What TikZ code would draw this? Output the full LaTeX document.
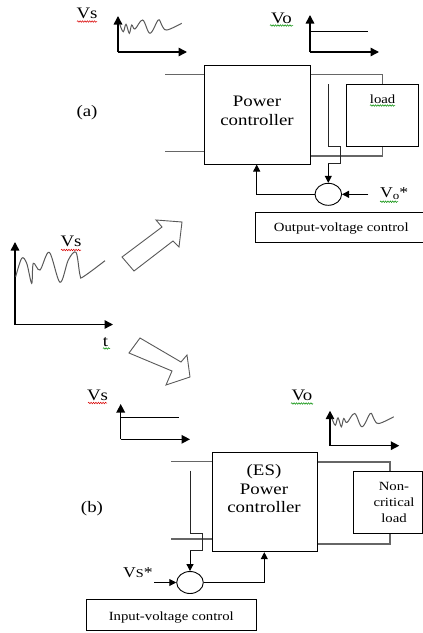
\documentclass[tikz,border=0pt]{standalone}
\usepackage{fontspec}
\setmainfont[FakeStretch=1.18]{Liberation Serif}
\usetikzlibrary{arrows.meta,decorations.pathmorphing,shapes.geometric}
\begin{document}
\begin{tikzpicture}[x=1pt,y=-1pt,
  box/.style={draw=black,line width=0.9pt,inner sep=0pt,rectangle},
  wire/.style={draw=black!60,line width=1.1pt},
  sense/.style={draw=black!85,line width=1pt},
  axis/.style={line width=1.5pt,-{Triangle[length=8.5pt,width=8.5pt]}},
  sig/.style={line width=1pt,-{Triangle[length=7pt,width=7pt]}},
  wave/.style={draw=black!65,line width=1pt},
  lbl/.style={inner sep=0pt,anchor=base,font=\fontsize{16}{18}\selectfont},
  smalllbl/.style={inner sep=0pt,anchor=base,font=\fontsize{12.5}{15}\selectfont},
  sum/.style={draw,ellipse,line width=0.9pt,minimum width=26.6pt,minimum height=22pt,inner sep=0pt},
  blk/.style={draw=black!65,line width=0.9pt,fill=white,line join=miter},
  redsq/.style={draw=red!85!black,line width=0.5pt,decorate,decoration={snake,amplitude=0.8pt,segment length=2.4pt}},
  grnsq/.style={draw=green!55!black,line width=0.5pt,decorate,decoration={snake,amplitude=0.8pt,segment length=2.4pt}}
]
\useasboundingbox (0,0) rectangle (423,633);

% ---------------- (a) ----------------
\node[box,minimum width=105.7pt,minimum height=98.7pt] (pca) at (257.2,114.7) {};
\node[lbl] (pcat1) at (257,106.7) {Power};
\node[lbl] (pcat2) at (257,125) {controller};
\node[box,minimum width=71.6pt,minimum height=62pt] (loada) at (382.5,115.3) {};
\node[smalllbl] (loadat) at (382.6,103.5) {load};
\node[box,minimum width=172pt,minimum height=30pt] (ovc) at (341,227.3) {};
\node[smalllbl] (ovct) at (341.3,231) {Output-voltage control};
\node[sum] (suma) at (328.3,194.3) {};
\node[lbl] (alabel) at (87,116) {(a)};
\node[lbl] (vsa) at (87,18) {Vs};
\node[lbl] (voa) at (281.5,23) {Vo};
\node[lbl,anchor=base west,font=\fontsize{15}{18}\selectfont] (vostar) at (380,197) {V\raisebox{-2.5pt}{\fontsize{11}{11}\selectfont o}*};

\coordinate (ina1) at (165,74.7);
\coordinate (ina2) at (165,151.3);
\coordinate (oa1) at (382.7,74.7);
\coordinate (oa2) at (382.7,156);
\draw[wire] (ina1) -- (ina1 -| pca.west);
\draw[wire] (ina2) -- (ina2 -| pca.west);
\draw[wire] (pca.east |- oa1) -- (oa1) -- (oa1 |- loada.north);
\draw[wire] (pca.east |- oa2) -- (oa2) -- (oa2 |- loada.south);

\coordinate (sa1) at (328.3,84.3);
\coordinate (sa2) at (328.3,146);
\coordinate (sa3) at (340,146);
\coordinate (sa4) at (340,163.5);
\coordinate (sa5) at (328.3,163.5);
\draw[sense] (sa1) -- (sa2) -- (sa3) -- (sa4) -- (sa5);
\draw[sig] (sa5) -- (suma.north);
\coordinate (vref) at (368.3,194.3);
\draw[sig] (vref) -- (suma.east);
\coordinate (fa) at (256.7,194.3);
\draw[sig] (suma.west) -- (fa) -- (fa |- pca.south);

% small axes (a)
\coordinate (oa) at (118,52);
\draw[axis] (oa) -- ++(0,-36);
\draw[axis] (oa) -- ++(69,0);
\draw[wave] plot[smooth,tension=0.6] coordinates {(120,25) (123.3,31.7) (126,24.3) (129.3,33.3) (131.7,25) (135,29) (142.7,20) (150,33.3) (158.3,20) (161.7,25) (166.7,30) (181.7,23.3)};
\coordinate (ob) at (310,52);
\draw[axis] (ob) -- ++(0,-37);
\draw[axis] (ob) -- ++(69,0);
\coordinate (stepa) at (310,31);
\draw[line width=1pt] (stepa) -- ++(58,0);

% ---------------- middle ----------------
\coordinate (om) at (15,324.5);
\draw[axis] (om) -- ++(0,-82.5);
\draw[axis] (om) -- ++(98,0);
\draw[wave] plot[smooth,tension=0.55] coordinates {(15.7,276.7) (21.7,258.3) (26.7,263.3) (31.7,283.3) (33.3,263.3) (40,270) (49.3,252.3) (60,282.3) (68.3,260) (76,252.3) (80,275) (83.3,276.7) (105,260.7)};
\node[lbl] (vsm) at (71,246.7) {Vs};
\node[lbl] (tlabel) at (105.5,346) {t};

\draw[blk] (122,257) -- (162,227) -- (156,220) -- (182,222) -- (179,247) -- (173,241) -- (134,271) -- cycle;
\draw[blk] (140,338) -- (181,362) -- (187,355) -- (190,377) -- (166,385) -- (172,371) -- (129,353) -- cycle;

% ---------------- (b) ----------------
\node[box,minimum width=105.3pt,minimum height=99.4pt] (pcb) at (264.7,502) {};
\node[lbl] (pcbt0) at (264,475) {(ES)};
\node[lbl] (pcbt1) at (264,494.3) {Power};
\node[lbl] (pcbt2) at (264,512.3) {controller};
\node[box,minimum width=68.7pt,minimum height=61.6pt] (loadb) at (387.7,502.5) {};
\node[smalllbl] (loadbt1) at (394,490) {Non-};
\node[smalllbl] (loadbt2) at (394,506) {critical};
\node[smalllbl] (loadbt3) at (394,522) {load};
\node[box,minimum width=170.7pt,minimum height=30.7pt] (ivc) at (171.3,614.7) {};
\node[smalllbl] (ivct) at (171.3,620) {Input-voltage control};
\node[sum] (sumb) at (190,582.5) {};
\node[lbl] (blabel) at (92,512) {(b)};
\node[lbl] (vsb) at (97.5,400) {Vs};
\node[lbl] (vob) at (302,400.7) {Vo};
\node[lbl,anchor=base west,font=\fontsize{15}{18}\selectfont] (vsstar) at (123,577) {V{\fontsize{12}{12}\selectfont S}*};

\coordinate (inb1) at (171,461.7);
\coordinate (inb2) at (171,539);
\coordinate (obb1) at (390,462);
\coordinate (obb2) at (390,544);
\draw[wire] (inb1) -- (inb1 -| pcb.west);
\draw[wire] (inb2) -- (inb2 -| pcb.west);
\draw[wire] (pcb.east |- obb1) -- (obb1) -- (obb1 |- loadb.north);
\draw[wire] (pcb.east |- obb2) -- (obb2) -- (obb2 |- loadb.south);

\coordinate (sb1) at (190,470.7);
\coordinate (sb2) at (190,533.3);
\coordinate (sb3) at (202.3,533.3);
\coordinate (sb4) at (202.3,550.7);
\coordinate (sb5) at (190,550.7);
\draw[sense] (sb1) -- (sb2) -- (sb3) -- (sb4) -- (sb5);
\draw[sig] (sb5) -- (sumb.north);
\coordinate (vsref) at (154.3,582.5);
\draw[sig] (vsref) -- (sumb.west);
\coordinate (fb) at (264.3,582.5);
\draw[sig] (sumb.east) -- (fb) -- (fb |- pcb.south);

% axes (b)
\coordinate (oc) at (120.7,439.3);
\draw[axis] (oc) -- ++(0,-35.3);
\draw[axis] (oc) -- ++(69.3,0);
\coordinate (stepb) at (120.7,417.3);
\draw[line width=1pt] (stepb) -- ++(58.3,0);
\coordinate (od) at (330,445.7);
\draw[axis] (od) -- ++(0,-35);
\draw[axis] (od) -- ++(69.3,0);
\draw[wave,shift={(212,393.5)}] plot[smooth,tension=0.6] coordinates {(120,25) (123.3,31.7) (126,24.3) (129.3,33.3) (131.7,25) (135,29) (142.7,20) (150,33.3) (158.3,20) (161.7,25) (166.7,30) (181.7,23.3)};

% spell-check squiggles
\draw[redsq] (77,21.5) -- (97,21.5);
\draw[redsq] (61,250) -- (81,250);
\draw[redsq] (88,403) -- (107,403);
\draw[grnsq] (270,25.5) -- (293,25.5);
\draw[grnsq] (103,348.5) -- (110,348.5);
\draw[grnsq] (370,105.5) -- (395,105.5);
\draw[grnsq] (291,403.5) -- (313,403.5);
\draw[grnsq] (380,201.7) -- (398,201.7);
\end{tikzpicture}
\end{document}
